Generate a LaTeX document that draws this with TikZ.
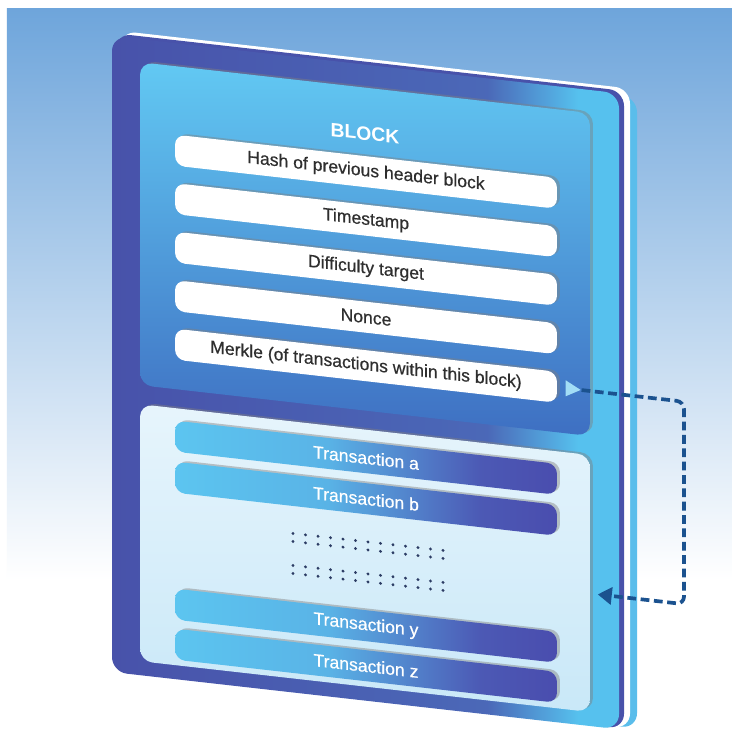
\documentclass[tikz,border=0pt]{standalone}
\usepackage{fontspec}
\setmainfont{Liberation Sans}
\newfontfamily\barfont[FakeBold=0.6]{Liberation Sans}
\usepackage{tikz}
\usetikzlibrary{
  positioning,      % triangle marker next to the Merkle field
  arrows.meta,      % tip of the dashed link
  shapes.geometric, % isosceles triangle
  shadows           % bevel under bars and panels
}

\definecolor{framedark}{HTML}{4852AA}
\definecolor{framelight}{HTML}{56C1EE}
\definecolor{paneltop}{HTML}{62C9F3}
\definecolor{panelbot}{HTML}{3E6FC2}
\definecolor{txlight}{HTML}{5CC5F0}
\definecolor{txdark}{HTML}{4A4DAE}
\definecolor{listbg}{HTML}{C9E8F8}
\definecolor{linkblue}{HTML}{1B528F}
\definecolor{skyblue}{HTML}{6EA5DB}
\definecolor{textgray}{HTML}{2E2E2E}
\definecolor{dotcol}{HTML}{2C3C64}

% 25bp..75bp is stretched over the shape
\pgfdeclarehorizontalshading{frameshade}{100bp}{color(0bp)=(framedark); color(25bp)=(framedark);
  color(62bp)=(framedark!80!framelight); color(71bp)=(framelight); color(100bp)=(framelight)}
\pgfdeclarehorizontalshading{txshade}{100bp}{color(0bp)=(txlight); color(25bp)=(txlight);
  color(45bp)=(txlight!85!txdark); color(65bp)=(txdark!90!txlight); color(75bp)=(txdark); color(100bp)=(txdark)}

\tikzset{
  bevel/.style={drop shadow={shadow xshift=0.06cm, shadow yshift=0.03cm, fill=black!50, opacity=0.45}},
  hdrbar/.style={bevel, fill=white, rounded corners=0.2cm, minimum width=7.64cm, minimum height=0.62cm,
    inner sep=0pt, text=textgray, font=\barfont\fontsize{10}{12}\selectfont},
  txbar/.style={bevel, shading=txshade, rounded corners=0.2cm, minimum width=7.64cm, minimum height=0.62cm,
    inner sep=0pt, text=white, font=\barfont\fontsize{10}{12}\selectfont},
  hdrpanel/.style={bevel, top color=paneltop, bottom color=panelbot, rounded corners=0.25cm,
    minimum width=9cm, minimum height=6.46cm, inner sep=0pt},
  txpanel/.style={bevel, top color=listbg!45!white, bottom color=listbg, rounded corners=0.25cm,
    minimum width=9cm, minimum height=5.14cm, inner sep=0pt},
  marker/.style={isosceles triangle, isosceles triangle stretches, fill=framelight!55!white,
    minimum width=0.32cm, minimum height=0.3cm, inner sep=0pt},
  link/.style={linkblue, line width=2.1pt, dash pattern=on 5pt off 2.6pt, rounded corners=0.15cm,
    -{Triangle[length=0.28cm, width=0.34cm]}}
}

\begin{document}
\begin{tikzpicture}[x=0.02cm, y=0.02cm]
  \useasboundingbox (0,0) rectangle (732,-735);
  % sky
  \fill[white] (0,0) rectangle (732,-735);
  \shade[top color=skyblue, bottom color=white, middle color=skyblue!50!white] (7,-8) rectangle (732,-580);

  \begin{scope}[shift={(112,0)}, yslant=-0.113, shift={(-112,0)}, transform shape]
    % slab with its edges
    \fill[framelight!85!skyblue, rounded corners=0.3cm] (126,-38) rectangle (637,-669);
    \fill[white, rounded corners=0.3cm] (121,-30) rectangle (630,-670);
    \fill[framedark, rounded corners=0.3cm] (116,-33) rectangle (624,-671);
    \shade[shading=frameshade, rounded corners=0.3cm] (112,-36) rectangle (619,-672);

    % header
    \node[hdrpanel] (header) at (365,-220.5) {};
    \node[font=\bfseries\fontsize{11}{13}\selectfont, text=white] (title) at (365,-105) {BLOCK};
    \node[hdrbar] (hash) at (366,-143) {Hash of previous header block};
    \node[hdrbar] (time) at (366,-191.5) {Timestamp};
    \node[hdrbar] (target) at (366,-240) {Difficulty target};
    \node[hdrbar] (nonce) at (366,-288.5) {Nonce};
    \node[hdrbar] (merkle) at (366,-337) {Merkle (of transactions within this block)};
    \node[marker, right=0.16cm of merkle] (tri) {};

    % transactions
    \node[txpanel] (txlist) at (365,-529.5) {};
    \node[txbar] (txa) at (366,-429) {Transaction a};
    \node[txbar] (txb) at (366,-470) {Transaction b};
    \node[txbar] (txy) at (366,-597) {Transaction y};
    \node[txbar] (txz) at (366,-637) {Transaction z};
    \foreach \i in {0,...,12}
      \foreach \r in {513,521,545,553}
        \fill[dotcol] (293+12.5*\i,-\r) circle (1.6);

    % merkle -> transactions
    \coordinate (loop) at (684,-440);
    \draw[link, shorten >=0.15cm] (tri.east) -| (loop) |- ([yshift=-0.2cm]txlist.east);
  \end{scope}
\end{tikzpicture}
\end{document}
